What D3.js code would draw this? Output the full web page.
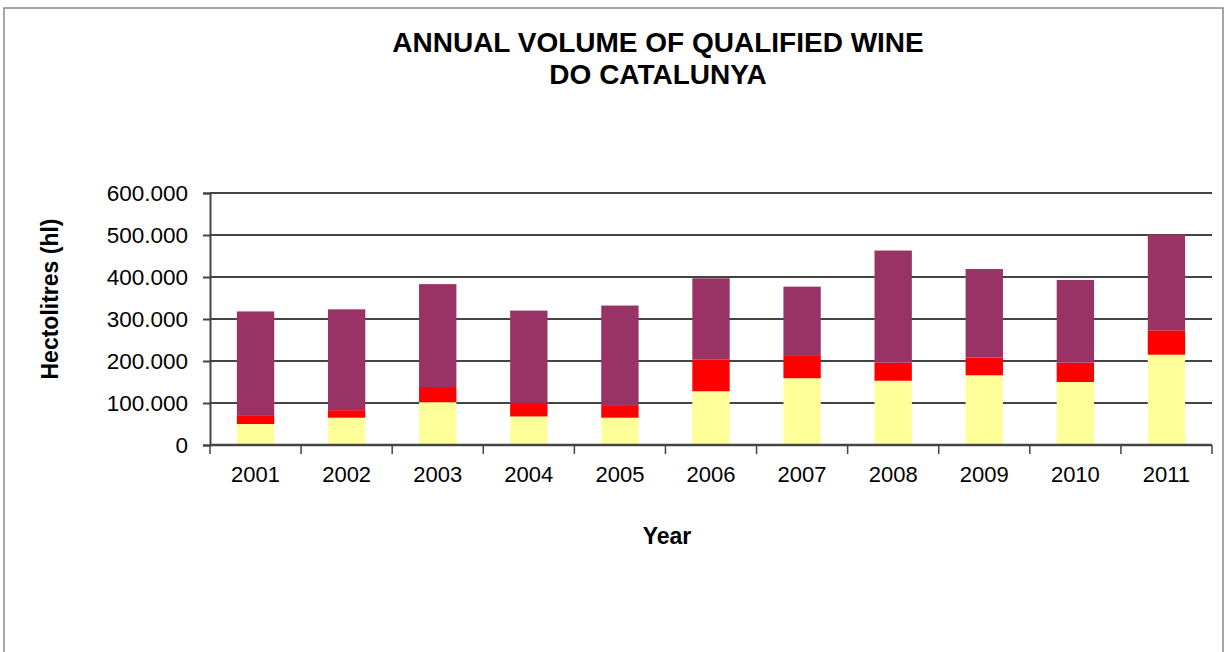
<!DOCTYPE html>
<html>
<head>
<meta charset="utf-8">
<script src="https://cdn.jsdelivr.net/npm/d3@7"></script>
<style>
  body { margin: 0; background: #fff; }
  svg text { font-family: "Liberation Sans", Arial, sans-serif; fill: #000; }
</style>
</head>
<body>
<div id="chart"></div>
<script>
// Datos del gráfico (hectolitros por año)
const years = ["2001", "2002", "2003", "2004", "2005", "2006", "2007", "2008", "2009", "2010", "2011"];
const whiteWine = [50000, 65000, 102000, 68000, 65000, 128000, 159000, 153000, 166000, 150000, 215000];
const roseWine = [21000, 18000, 36000, 31000, 30000, 76000, 55000, 43000, 42000, 46000, 58000];
const redWine = [247000, 240000, 245000, 221000, 237000, 193000, 163000, 267000, 211000, 197000, 228000];
const yTicks = [0, 100000, 200000, 300000, 400000, 500000, 600000];
const seriesNames = ["white", "rose", "red"];
const seriesColors = ["#FFFF99", "#FF0000", "#993366"];

const width = 1227;
const height = 652;
const plot = { left: 210, right: 1212, top: 193, bottom: 445 };

const svg = d3.select("#chart")
  .append("svg")
  .attr("width", width)
  .attr("height", height);

// Marco exterior
svg.append("rect")
  .attr("x", 4).attr("y", 8)
  .attr("width", 1219).attr("height", 660)
  .attr("fill", "none")
  .attr("stroke", "#888")
  .attr("stroke-width", 1.5);

// Escalas
const x = d3.scaleBand()
  .domain(years)
  .range([plot.left, plot.right])
  .padding(0);

const y = d3.scaleLinear()
  .domain([0, 600000])
  .range([plot.bottom, plot.top]);

// Líneas de cuadrícula
svg.append("g")
  .selectAll("line")
  .data(yTicks.slice(1))
  .join("line")
  .attr("x1", plot.left)
  .attr("x2", plot.right)
  .attr("y1", (d) => y(d))
  .attr("y2", (d) => y(d))
  .attr("stroke", "#444")
  .attr("stroke-width", 2);

// Pila de datos
const rows = years.map((yr, i) => ({
  year: yr,
  white: whiteWine[i],
  rose: roseWine[i],
  red: redWine[i]
}));
const stacked = d3.stack().keys(seriesNames)(rows);
const color = d3.scaleOrdinal().domain(seriesNames).range(seriesColors);

const barWidth = x.bandwidth() * 0.41;

svg.append("g")
  .selectAll("g")
  .data(stacked)
  .join("g")
  .attr("fill", (s) => color(s.key))
  .selectAll("rect")
  .data((s) => s)
  .join("rect")
  .attr("x", (d) => x(d.data.year) + (x.bandwidth() - barWidth) / 2)
  .attr("y", (d) => y(d[1]))
  .attr("width", barWidth)
  .attr("height", (d) => y(d[0]) - y(d[1]));

// Eje Y
const yAxis = svg.append("g")
  .attr("transform", `translate(${plot.left},0)`)
  .call(
    d3.axisLeft(y)
      .tickValues(yTicks)
      .tickSize(7)
      .tickPadding(15)
      .tickFormat((d) => d === 0 ? "0" : d3.format(",")(d).replace(/,/g, "."))
  );
yAxis.select(".domain").attr("stroke", "#444").attr("stroke-width", 2);
yAxis.selectAll(".tick line").attr("stroke", "#444").attr("stroke-width", 2);
yAxis.selectAll(".tick text")
  .style("font-size", "22.5px")
  .attr("fill", "#000");

// Eje X
const xAxis = svg.append("g")
  .attr("transform", `translate(0,${plot.bottom})`)
  .call(d3.axisBottom(x).tickSize(0));
xAxis.select(".domain").remove();
xAxis.selectAll(".tick text")
  .attr("y", 37)
  .attr("dy", null)
  .style("font-size", "22px")
  .attr("fill", "#000");

svg.append("line")
  .attr("x1", plot.left).attr("x2", plot.right)
  .attr("y1", plot.bottom).attr("y2", plot.bottom)
  .attr("stroke", "#444").attr("stroke-width", 2.5);

// Marcas entre categorías
svg.append("g")
  .selectAll("line")
  .data(years.concat(["end"]))
  .join("line")
  .attr("x1", (d, i) => plot.left + i * x.step())
  .attr("x2", (d, i) => plot.left + i * x.step())
  .attr("y1", plot.bottom)
  .attr("y2", plot.bottom + 9)
  .attr("stroke", "#444")
  .attr("stroke-width", 1.5);

// Títulos
svg.append("text")
  .attr("x", 658).attr("y", 52)
  .attr("text-anchor", "middle")
  .style("font-size", "28px").style("font-weight", "bold")
  .text("ANNUAL VOLUME OF QUALIFIED WINE");

svg.append("text")
  .attr("x", 658).attr("y", 84)
  .attr("text-anchor", "middle")
  .style("font-size", "28px").style("font-weight", "bold")
  .text("DO CATALUNYA");

svg.append("text")
  .attr("x", 667).attr("y", 544)
  .attr("text-anchor", "middle")
  .style("font-size", "23px").style("font-weight", "bold")
  .text("Year");

svg.append("text")
  .attr("transform", "translate(58,299) rotate(-90)")
  .attr("text-anchor", "middle")
  .style("font-size", "23px").style("font-weight", "bold")
  .text("Hectolitres (hl)");
</script>
</body>
</html>
